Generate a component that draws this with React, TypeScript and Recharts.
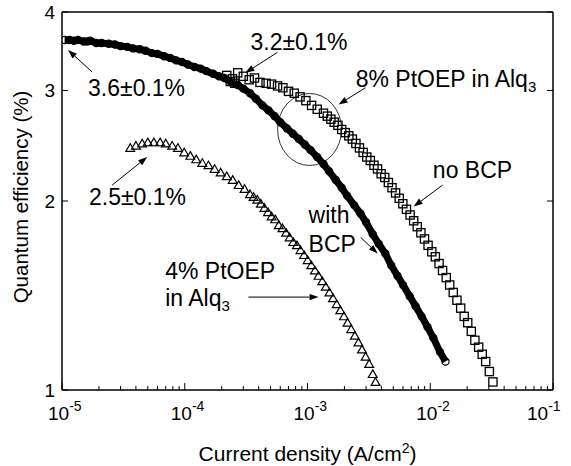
import React from "react";
import {
  ComposedChart,
  Line,
  Scatter,
  XAxis,
  YAxis,
  ReferenceDot,
  ReferenceLine,
} from "recharts";

const FONT = '"Liberation Sans", Arial, Helvetica, sans-serif';

// 8% PtOEP in Alq3, with BCP (circles) -- [current density A/cm2, QE %]
const withBcp: [number, number][] = [
  [1.05e-5, 3.61], [1.15e-5, 3.61], [1.25e-5, 3.6], [1.35e-5, 3.61], [1.5e-5, 3.59],
  [1.6e-5, 3.59], [1.7e-5, 3.6], [1.9e-5, 3.57], [2.1e-5, 3.57], [2.4e-5, 3.56],
  [2.7e-5, 3.55], [3.0e-5, 3.53], [3.4e-5, 3.52], [3.8e-5, 3.5], [4.3e-5, 3.49],
  [4.8e-5, 3.47], [5.4e-5, 3.44], [6.0e-5, 3.43], [6.8e-5, 3.4], [7.6e-5, 3.38],
  [8.5e-5, 3.35], [9.5e-5, 3.33], [1.06e-4, 3.3], [1.2e-4, 3.27], [1.35e-4, 3.25],
  [1.5e-4, 3.22], [1.7e-4, 3.19], [1.9e-4, 3.16], [2.1e-4, 3.14], [2.4e-4, 3.09],
  [2.7e-4, 3.06], [3.0e-4, 3.02], [3.4e-4, 2.97], [3.8e-4, 2.91], [4.3e-4, 2.84],
  [4.8e-4, 2.79], [5.4e-4, 2.73], [6.0e-4, 2.67], [6.8e-4, 2.61], [7.6e-4, 2.56],
  [8.5e-4, 2.51], [9.5e-4, 2.46], [1.06e-3, 2.41], [1.2e-3, 2.35], [1.35e-3, 2.29],
  [1.5e-3, 2.23], [1.7e-3, 2.16], [1.9e-3, 2.1], [2.1e-3, 2.04], [2.4e-3, 1.97],
  [2.7e-3, 1.91], [3.0e-3, 1.85], [3.4e-3, 1.77], [3.8e-3, 1.71], [4.3e-3, 1.65],
  [4.8e-3, 1.58], [5.4e-3, 1.52], [6.0e-3, 1.47], [6.8e-3, 1.41], [7.6e-3, 1.36],
  [8.5e-3, 1.31], [9.5e-3, 1.26], [1.06e-2, 1.21], [1.2e-2, 1.15], [1.33e-2, 1.11],
];

// 8% PtOEP in Alq3, no BCP (squares)
const noBcp: [number, number][] = [
  [2.2e-4, 3.17], [2.35e-4, 3.1], [2.45e-4, 3.13], [2.55e-4, 3.08], [2.7e-4, 3.2],
  [3.0e-4, 3.16], [3.35e-4, 3.12], [3.7e-4, 3.14], [4.1e-4, 3.09], [4.6e-4, 3.08],
  [5.1e-4, 3.07], [5.7e-4, 3.05], [6.3e-4, 3.03], [7.0e-4, 2.99], [7.8e-4, 2.97],
  [8.7e-4, 2.93], [9.7e-4, 2.89], [1.08e-3, 2.84], [1.2e-3, 2.8], [1.35e-3, 2.76],
  [1.45e-3, 2.73], [1.55e-3, 2.7], [1.65e-3, 2.67], [1.77e-3, 2.64], [1.9e-3, 2.6],
  [2.03e-3, 2.57], [2.17e-3, 2.54], [2.32e-3, 2.51], [2.48e-3, 2.47], [2.65e-3, 2.43],
  [2.84e-3, 2.39], [3.04e-3, 2.35], [3.25e-3, 2.32], [3.48e-3, 2.28], [3.72e-3, 2.25],
  [3.98e-3, 2.21], [4.26e-3, 2.18], [4.56e-3, 2.14], [4.88e-3, 2.1], [5.22e-3, 2.06],
  [5.59e-3, 2.02], [5.98e-3, 1.98], [6.4e-3, 1.94], [6.85e-3, 1.9], [7.33e-3, 1.86],
  [7.84e-3, 1.82], [8.39e-3, 1.78], [8.98e-3, 1.74], [9.6e-3, 1.7], [1.03e-2, 1.66],
  [1.1e-2, 1.63], [1.18e-2, 1.59], [1.26e-2, 1.55], [1.35e-2, 1.51], [1.44e-2, 1.47],
  [1.54e-2, 1.43], [1.65e-2, 1.39], [1.77e-2, 1.35], [1.89e-2, 1.31], [2.02e-2, 1.28],
  [2.16e-2, 1.24], [2.31e-2, 1.2], [2.48e-2, 1.17], [2.65e-2, 1.14], [2.83e-2, 1.11],
  [3.03e-2, 1.07], [3.24e-2, 1.03],
];

// 4% PtOEP in Alq3 (triangles)
const fourPct: [number, number][] = [
  [3.6e-5, 2.43], [4.0e-5, 2.45], [4.5e-5, 2.47], [5.0e-5, 2.48], [5.6e-5, 2.48],
  [6.3e-5, 2.48], [7.0e-5, 2.47], [7.9e-5, 2.45], [8.8e-5, 2.43], [9.9e-5, 2.39],
  [1.11e-4, 2.36], [1.24e-4, 2.33], [1.39e-4, 2.3], [1.56e-4, 2.28], [1.75e-4, 2.25],
  [1.96e-4, 2.22], [2.2e-4, 2.19], [2.46e-4, 2.16], [2.75e-4, 2.12], [3.07e-4, 2.09],
  [3.4e-4, 2.05], [3.64e-4, 2.03], [3.9e-4, 2.01], [4.17e-4, 1.98], [4.46e-4, 1.95],
  [4.77e-4, 1.92], [5.1e-4, 1.89], [5.46e-4, 1.87], [5.84e-4, 1.83], [6.25e-4, 1.81],
  [6.69e-4, 1.78], [7.16e-4, 1.75], [7.66e-4, 1.72], [8.2e-4, 1.7], [8.77e-4, 1.67],
  [9.38e-4, 1.64], [1.004e-3, 1.61], [1.074e-3, 1.58], [1.15e-3, 1.55], [1.23e-3, 1.52],
  [1.32e-3, 1.49], [1.41e-3, 1.46], [1.51e-3, 1.43], [1.615e-3, 1.4], [1.73e-3, 1.37],
  [1.85e-3, 1.34], [1.98e-3, 1.31], [2.12e-3, 1.28], [2.27e-3, 1.25], [2.43e-3, 1.22],
  [2.6e-3, 1.19], [2.78e-3, 1.16], [2.975e-3, 1.13], [3.18e-3, 1.1], [3.4e-3, 1.06],
  [3.58e-3, 1.03],
];

const decades = [1e-5, 1e-4, 1e-3, 1e-2, 1e-1];
const minorSteps = [2, 3, 4, 5, 6, 7, 8, 9];
const xTicks = decades.flatMap((d, i) =>
  i < decades.length - 1 ? [d, ...minorSteps.map((m) => m * d)] : [d]
);
const yTicks = [1, 2, 3, 4];

// text annotations, anchored (left, baseline) in data coordinates
const notes = [
  { x: 3.43e-4, y: 3.48, text: "3.2±0.1%" },
  { x: 1.63e-5, y: 2.94, text: "3.6±0.1%" },
  { x: 2.47e-3, y: 3.04, text: "8% PtOEP in Alq", sub: "3" },
  { x: 1.05e-2, y: 2.18, text: "no BCP" },
  { x: 1.02e-3, y: 1.845, text: "with" },
  { x: 1.02e-3, y: 1.66, text: "BCP" },
  { x: 1.66e-5, y: 1.97, text: "2.5±0.1%" },
  { x: 6.93e-5, y: 1.5, text: "4% PtOEP" },
  { x: 6.93e-5, y: 1.36, text: "in Alq", sub: "3" },
];

// arrows: tail -> head
const arrows = [
  { x1: 5.69e-4, y1: 3.45, x2: 3.12e-4, y2: 3.2 },
  { x1: 1.76e-5, y1: 3.21, x2: 1.12e-5, y2: 3.48 },
  { x1: 2.97e-3, y1: 3.03, x2: 1.79e-3, y2: 2.85 },
  { x1: 1.26e-2, y1: 2.12, x2: 7.33e-3, y2: 1.96 },
  { x1: 2.71e-3, y1: 1.75, x2: 3.73e-3, y2: 1.65 },
  { x1: 2.56e-5, y1: 2.12, x2: 4.94e-5, y2: 2.35 },
  { x1: 3.3e-4, y1: 1.406, x2: 1.23e-3, y2: 1.406 },
];

const toPoints = (arr: [number, number][]) => arr.map(([x, y]) => ({ x, y }));

const isDecade = (v: number) =>
  Math.abs(Math.log10(v) - Math.round(Math.log10(v))) < 1e-6;

const XTick = (props: any) => {
  const { x, y, payload } = props;
  const major = isDecade(payload.value);
  const exp = Math.round(Math.log10(payload.value));
  // last label sits a little to the left, as in the original
  const shift = exp === -1 ? 26 : 14;
  return (
    <g>
      <line x1={x} y1={y} x2={x} y2={y - (major ? 7 : 4)} stroke="#000" strokeWidth={1} />
      {major && (
        <text x={x - shift} y={y + 30} fontSize={19} fontFamily={FONT} fill="#000">
          10
          <tspan dy={-9} fontSize={14}>
            {exp}
          </tspan>
        </text>
      )}
    </g>
  );
};

const TopTick = (props: any) => {
  const { x, y, payload } = props;
  const major = isDecade(payload.value);
  return <line x1={x} y1={y} x2={x} y2={y + (major ? 7 : 4)} stroke="#000" strokeWidth={1} />;
};

const YTick = (props: any) => {
  const { x, y, payload } = props;
  return (
    <g>
      <line x1={x} y1={y} x2={x + 6} y2={y} stroke="#000" strokeWidth={1} />
      <text x={x - 7} y={y + 7} textAnchor="end" fontSize={19} fontFamily={FONT} fill="#000">
        {payload.value}
      </text>
    </g>
  );
};

const RightTick = (props: any) => {
  const { x, y } = props;
  return <line x1={x} y1={y} x2={x - 6} y2={y} stroke="#000" strokeWidth={1} />;
};

const Arrow = (p: any) => {
  const { x1, y1, x2, y2 } = p;
  const dx = x2 - x1;
  const dy = y2 - y1;
  const len = Math.hypot(dx, dy) || 1;
  const ux = dx / len;
  const uy = dy / len;
  const hl = 9;
  const hw = 3.2;
  const bx = x2 - ux * hl;
  const by = y2 - uy * hl;
  const pts = `${x2},${y2} ${bx - uy * hw},${by + ux * hw} ${bx + uy * hw},${by - ux * hw}`;
  return (
    <g>
      <line x1={x1} y1={y1} x2={bx} y2={by} stroke="#000" strokeWidth={1} />
      <polygon points={pts} fill="#000" />
    </g>
  );
};

const Square = (p: any) => (
  <rect x={p.cx - 4.1} y={p.cy - 4.1} width={8.2} height={8.2} fill="none" stroke="#000" strokeWidth={1.3} />
);

const Triangle = (p: any) => (
  <polygon
    points={`${p.cx},${p.cy - 4.2} ${p.cx + 4.4},${p.cy + 3.4} ${p.cx - 4.4},${p.cy + 3.4}`}
    fill="none"
    stroke="#000"
    strokeWidth={1.2}
  />
);

const Circle = (p: any) => (
  <circle cx={p.cx} cy={p.cy} r={3.6} fill="none" stroke="#000" strokeWidth={1.2} />
);

export default function App() {
  return (
    <div style={{ position: "absolute", left: 0, top: 0, background: "#fff", fontFamily: FONT }}>
      <ComposedChart
        width={571}
        height={466}
        margin={{ top: 8, right: 10, bottom: 36, left: 12 }}
      >
        <XAxis
          dataKey="x"
          type="number"
          scale="log"
          domain={[1e-5, 1e-1]}
          allowDataOverflow
          ticks={xTicks}
          interval={0}
          tickSize={0}
          tickMargin={0}
          height={40}
          axisLine={{ stroke: "#000", strokeWidth: 1.5 }}
          tickLine={false}
          tick={<XTick />}
          label={{
            content: (lp: any) => {
              const vb = lp.viewBox;
              return (
                <text
                  x={vb.x + vb.width / 2}
                  y={vb.y + 71}
                  textAnchor="middle"
                  fontSize={21}
                  fontFamily={FONT}
                  fill="#000"
                >
                  Current density (A/cm
                  <tspan dy={-8} fontSize={14}>2</tspan>
                  <tspan dy={8}>)</tspan>
                </text>
              );
            },
          }}
        />
        <XAxis
          xAxisId="top"
          orientation="top"
          type="number"
          scale="log"
          domain={[1e-5, 1e-1]}
          allowDataOverflow
          ticks={xTicks}
          interval={0}
          tickSize={0}
          tickMargin={0}
          height={4}
          axisLine={{ stroke: "#000", strokeWidth: 1.5 }}
          tickLine={false}
          tick={<TopTick />}
        />
        <YAxis
          dataKey="y"
          type="number"
          scale="log"
          domain={[1, 4]}
          allowDataOverflow
          ticks={yTicks}
          interval={0}
          tickSize={0}
          tickMargin={0}
          width={50}
          axisLine={{ stroke: "#000", strokeWidth: 1.5 }}
          tickLine={false}
          tick={<YTick />}
          label={{
            content: (lp: any) => {
              const vb = lp.viewBox;
              const cx = vb.x + 16;
              const cy = vb.y + vb.height / 2 - 4;
              return (
                <text
                  transform={`translate(${cx},${cy}) rotate(-90)`}
                  textAnchor="middle"
                  fontSize={20.5}
                  fontFamily={FONT}
                  fill="#000"
                >
                  Quantum efficiency (%)
                </text>
              );
            },
          }}
        />
        <YAxis
          yAxisId="right"
          orientation="right"
          type="number"
          scale="log"
          domain={[1, 4]}
          allowDataOverflow
          ticks={yTicks}
          interval={0}
          tickSize={0}
          tickMargin={0}
          width={8}
          axisLine={{ stroke: "#000", strokeWidth: 1.5 }}
          tickLine={false}
          tick={<RightTick />}
        />

        <Line
          data={toPoints(withBcp)}
          dataKey="y"
          stroke="#000"
          strokeWidth={7}
          dot={false}
          activeDot={false}
          isAnimationActive={false}
        />
        <Scatter data={toPoints(withBcp)} shape={<Circle />} isAnimationActive={false} />
        <Scatter data={toPoints(noBcp)} shape={<Square />} isAnimationActive={false} />
        <Scatter data={toPoints(fourPct)} shape={<Triangle />} isAnimationActive={false} />

        <ReferenceDot
          x={1.04e-3}
          y={2.6}
          ifOverflow="visible"
          shape={(p: any) => (
            <ellipse cx={p.cx} cy={p.cy} rx={32} ry={36} fill="none" stroke="#000" strokeWidth={0.8} />
          )}
        />
        {arrows.map((a, i) => (
          <ReferenceLine
            key={"a" + i}
            segment={[
              { x: a.x1, y: a.y1 },
              { x: a.x2, y: a.y2 },
            ]}
            ifOverflow="visible"
            shape={(p: any) => <Arrow {...p} />}
          />
        ))}
        {notes.map((n, i) => (
          <ReferenceDot
            key={"n" + i}
            x={n.x}
            y={n.y}
            ifOverflow="visible"
            shape={(p: any) => (
              <text x={p.cx} y={p.cy} fontSize={23} fontFamily={FONT} fill="#000">
                {n.text}
                {n.sub && (
                  <tspan dy={5} fontSize={15}>
                    {n.sub}
                  </tspan>
                )}
              </text>
            )}
          />
        ))}
      </ComposedChart>
    </div>
  );
}
